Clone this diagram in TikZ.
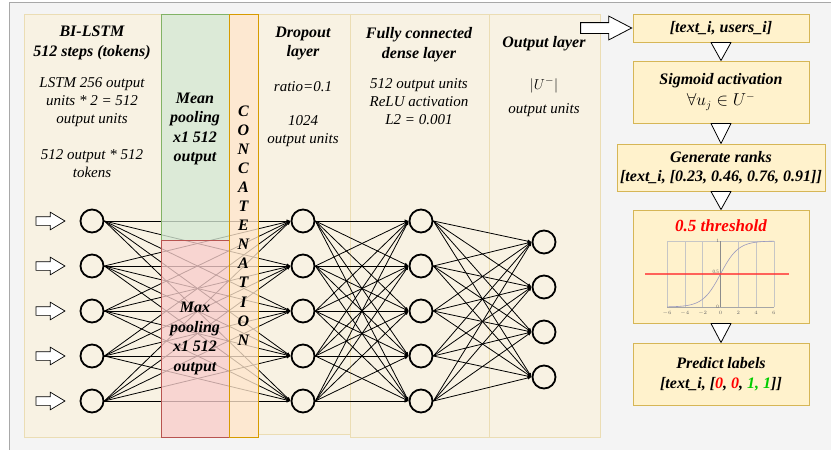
\documentclass[tikz,border=0pt]{standalone}
\usepackage{fontspec}
\setmainfont{Liberation Serif}
\usepackage{tikz}
\usetikzlibrary{shapes.arrows,arrows.meta,calc,positioning}
\definecolor{bggray}{HTML}{F4F4F4}
\definecolor{framegray}{HTML}{A8A8A8}
\definecolor{panelfill}{HTML}{F8F2E3}
\definecolor{panelline}{HTML}{EBDDB4}
\definecolor{meanfill}{HTML}{D5E8D4}
\definecolor{meanline}{HTML}{82B366}
\definecolor{maxfill}{HTML}{F8CECC}
\definecolor{maxline}{HTML}{B85450}
\definecolor{catfill}{HTML}{FFE6CC}
\definecolor{catline}{HTML}{D79B00}
\definecolor{boxfill}{HTML}{FFF2CC}
\definecolor{boxline}{HTML}{D6B656}
\definecolor{okgreen}{HTML}{00CC00}
\definecolor{curveblue}{HTML}{9A9ABF}
\tikzstyle{panel} = [draw=panelline, fill=panelfill, line width=1pt]
\tikzstyle{overlay} = [line width=1pt, fill opacity=0.78]
\tikzstyle{neuron} = [circle, draw=black, line width=1.8pt, minimum size=23pt, inner sep=0pt]
\tikzstyle{link} = [draw, line width=0.8pt, -{Latex[length=4pt,width=3.5pt]}]
\tikzstyle{headtxt} = [align=center, inner sep=0pt, font={\bfseries\itshape\fontsize{16}{19.5}\selectfont}]
\tikzstyle{bodytxt} = [align=center, inner sep=0pt, font={\itshape\fontsize{15}{18}\selectfont}]
\tikzstyle{stepbox} = [rectangle, draw=boxline, fill=boxfill, line width=1pt, align=center,
                       inner sep=0pt, font={\bfseries\itshape\fontsize{16}{19.5}\selectfont}]
\tikzstyle{tri} = [draw=black, fill=white, line width=0.8pt, line join=round]
\tikzstyle{inarrow} = [single arrow, draw=black, fill=white, line width=0.7pt, inner sep=4pt,
                       minimum height=29pt, single arrow head extend=4.5pt,
                       single arrow tip angle=62]
\tikzstyle{bigarrow} = [single arrow, draw=black, fill=white, line width=0.8pt, inner sep=5pt,
                        minimum height=51pt, single arrow head extend=6.5pt,
                        single arrow tip angle=55]
\tikzstyle{ticktxt} = [text=gray!80!black, font=\fontsize{5}{5}\selectfont, inner sep=0pt]
\begin{document}
\begin{tikzpicture}[x=1pt, y=-1pt]
      \useasboundingbox (0,0) rectangle (831,450);
      \fill[white] (0,0) rectangle (831,450);
      \fill[bggray] (9,2) rectangle (831,450);
      \draw[framegray, line width=1pt] (9,450) -- (9,2) -- (831,2);
      % layer panels
      \draw[panel] (24,14) rectangle (258,437);
      \draw[panel] (258,14) rectangle (350,434);
      \draw[panel] (350,14) rectangle (489,437);
      \draw[panel] (489,14) rectangle (600,437);
      % neurons
      \foreach \i/\y in {1/221,2/266,3/311,4/356,5/401} {
        \node [neuron] (in\i) at (92,\y) {};
        \node [neuron] (dr\i) at (303,\y) {};
        \node [neuron] (fc\i) at (421,\y) {};
        \node [inarrow, anchor=tip] (arr\i) at ($(in\i.west)+(-14,0)$) {};
      }
      \foreach \i/\y in {1/242,2/287,3/332,4/377}
        \node [neuron] (out\i) at (544,\y) {};
      \foreach \i in {1,...,5} {
        \foreach \j in {1,...,5} {
          \path [link] (in\i.east) -- (dr\j.west);
          \path [link] (dr\i.east) -- (fc\j.west);
        }
        \foreach \j in {1,...,4}
          \path [link] (fc\i.east) -- (out\j.west);
      }
      % pooling and concatenation
      \draw[overlay, draw=meanline, fill=meanfill] (161,14) rectangle (229,240);
      \draw[overlay, draw=maxline, fill=maxfill] (161,240) rectangle (229,437);
      \draw[overlay, draw=catline, fill=catfill] (229,14) rectangle (258,437);
      \foreach \l [count=\k from 0] in {C,O,N,C,A,T,E,N,A,T,I,O,N}
        \node [headtxt] (cat\k) at (243.5,{111+19.08*\k}) {\l};
      \node [headtxt] (mean) at (195,129) {Mean\\pooling\\x1 512\\output};
      \node [headtxt] (max) at (195,338.5) {Max\\pooling\\x1 512\\output};
      % layer texts
      \node [headtxt] (lstm) at (92,43) {BI-LSTM\\512 steps (tokens)};
      \node [bodytxt] (lstmunits) at (92,102) {LSTM 256 output\\units * 2 = 512\\output units};
      \node [bodytxt] (lstmout) at (92,164) {512 output * 512\\tokens};
      \node [headtxt] (drop) at (303,43.5) {Dropout\\layer};
      \node [bodytxt] (ratio) at (303,87) {ratio=0.1};
      \node [bodytxt] (dropunits) at (303,131) {1024\\output units};
      \node [headtxt] (dense) at (419,44.5) {Fully connected\\dense layer};
      \node [bodytxt] (denseunits) at (419,102) {512 output units\\ReLU activation\\L2 = 0.001};
      \node [headtxt] (outl) at (544,44) {Output layer};
      \node [bodytxt] (usize) at (544,85) {$|U^-|$};
      \node [bodytxt] (outunits) at (544,110) {output units};
      % prediction steps
      \node [stepbox, minimum width=176pt, minimum height=28pt] (b1) at (721,28)
        {[text\_i, users\_i]};
      \node [stepbox, minimum width=176pt, minimum height=62pt] (b2) at (721,92)
        {Sigmoid activation\\[1pt]\mdseries\upshape$\forall u_j \in U^-$};
      \node [stepbox, minimum width=208pt, minimum height=47pt] (b3) at (721,167.5)
        {Generate ranks\\{}[text\_i, [0.23, 0.46, 0.76, 0.91]]};
      \node [stepbox, minimum width=176pt, minimum height=113pt] (b4) at (721,266.5) {};
      \node [stepbox, minimum width=176pt, minimum height=62pt] (b5) at (721,374)
        {Predict labels\\[1pt]{}[text\_i, [\textcolor{red}{0}, \textcolor{red}{0}, \textcolor{okgreen}{1, 1}]]};
      \node [headtxt, text=red, font={\bfseries\itshape\fontsize{17}{20}\selectfont}] (thr) at (721,226) {0.5 threshold};
      \node [bigarrow, anchor=tip] (feed) at (b1.west) {};
      \filldraw[tri] ($(b1.south)+(-10,0)$) -- ($(b1.south)+(10,0)$) -- (b2.north) -- cycle;
      \filldraw[tri] ($(b2.south)+(-10,0)$) -- ($(b2.south)+(10,0)$) -- (b3.north) -- cycle;
      \filldraw[tri] ($(b3.south)+(-10,0)$) -- ($(b3.south)+(10,0)$) -- (b4.north) -- cycle;
      \filldraw[tri] ($(b4.south)+(-10,0)$) -- ($(b4.south)+(10,0)$) -- (b5.north) -- cycle;
      % sigmoid plot
      \foreach \u in {-6,-4,...,6} {
        \draw[gray!45, line width=0.5pt] ({720.5+8.9*\u},241) -- ({720.5+8.9*\u},307);
        \node[ticktxt] (tick\u) at ({720.5+8.9*\u},313) {$\u$};
      }
      \draw[gray!45, line width=0.5pt] (667,241) -- (774,241);
      \draw[gray!70, line width=0.6pt] (667,307) -- (774,307);
      \draw[gray!90, line width=0.6pt] (720.5,241) -- (720.5,307);
      \node[ticktxt, anchor=east] (yone) at (719,241) {1};
      \node[ticktxt, anchor=east] (yhalf) at (719,272) {0.5};
      \node[ticktxt, anchor=east] (yzero) at (719,307) {0};
      \draw[curveblue, line width=0.6pt] plot[domain=-6:6, samples=60] ({720.5+8.9*\x},{307-66/(1+exp(-\x))});
      \draw[red!80, opacity=0.75, line width=1.8pt] (645,274) -- (789,274);
    \end{tikzpicture}
\end{document}
